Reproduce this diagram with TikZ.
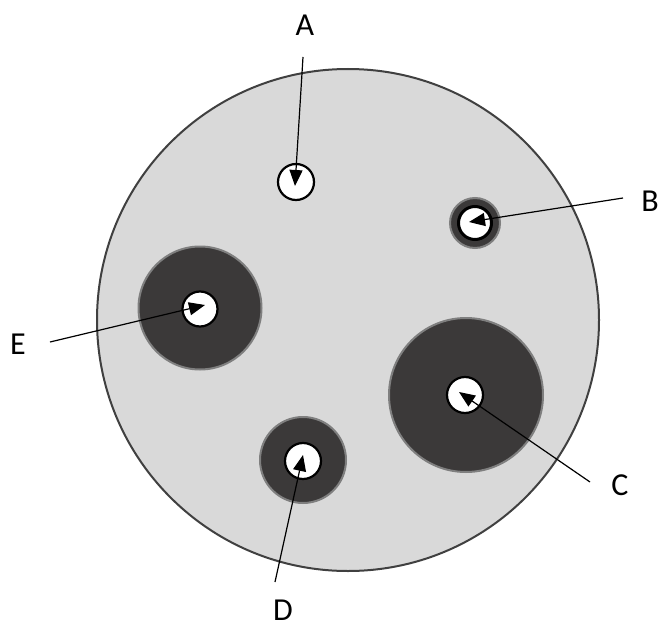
\documentclass[tikz,border=0pt]{standalone}
\usepackage{fontspec}
\setmainfont{Carlito}
\usetikzlibrary{arrows.meta}
\definecolor{plate}{HTML}{D9D9D9}
\definecolor{rim}{HTML}{404040}
\definecolor{zone}{HTML}{3B3939}
\definecolor{zoneedge}{HTML}{7F7F7F}
\tikzset{
  disc/.style={circle,draw=black,fill=white,line width=2.2pt,inner sep=0pt,minimum size=#1},
  halo/.style={circle,draw=zoneedge,fill=zone,line width=2pt,inner sep=0pt,minimum size=#1},
  lbl/.style={font=\fontsize{32}{32}\selectfont,inner sep=0pt},
  pointer/.style={line width=1.2pt,-{Triangle[length=16pt,width=13pt]}}
}
\begin{document}
\begin{tikzpicture}[x=1pt,y=-1pt]
\useasboundingbox (0,0) rectangle (659,626);
% plate
\node[circle,draw=rim,fill=plate,line width=2pt,inner sep=0pt,minimum size=502pt] (plate) at (348,320) {};
% zones
\node[halo=50pt] (hB) at (475,223) {};
\node[halo=123pt] (hE) at (200,308) {};
\node[halo=154pt] (hC) at (466,395) {};
\node[halo=86pt] (hD) at (303,460) {};
% discs
\node[disc=36pt] (dA) at (296,182) {};
\node[disc=33pt,line width=3pt] (dB) at (475,223) {};
\node[disc=35pt] (dE) at (200,309) {};
\node[disc=36pt] (dC) at (465,395) {};
\node[disc=36pt] (dD) at (303,461) {};
% labels
\node[lbl] (A) at (305,25) {A};
\node[lbl] (B) at (650,201) {B};
\node[lbl] (E) at (18,344) {E};
\node[lbl] (C) at (620,485) {C};
\node[lbl] (D) at (283,610) {D};
% tips
\coordinate (tA) at (295,186);
\coordinate (tB) at (469,222);
\coordinate (tE) at (205,305);
\coordinate (tC) at (459,392);
\coordinate (tD) at (303,455);
\coordinate (sA) at (303,57);
\coordinate (sB) at (623,198);
\coordinate (sE) at (50,342);
\coordinate (sC) at (590,482);
\coordinate (sD) at (275,582);
\draw[pointer] (sA) -- (tA);
\draw[pointer] (sB) -- (tB);
\draw[pointer] (sE) -- (tE);
\draw[pointer] (sC) -- (tC);
\draw[pointer] (sD) -- (tD);
\end{tikzpicture}
\end{document}
